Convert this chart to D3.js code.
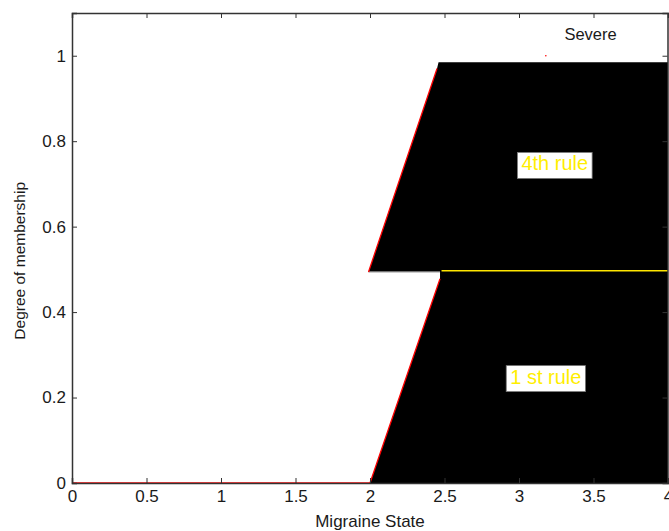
<!DOCTYPE html>
<html>
<head>
<meta charset="utf-8">
<script src="https://cdn.jsdelivr.net/npm/d3@7"></script>
<style>
  html, body { margin: 0; padding: 0; background: #fff; }
  svg { display: block; }
  text { font-family: "Liberation Sans", Arial, sans-serif; }
</style>
</head>
<body>
<svg id="chart" width="669" height="531"></svg>
<script>
// Membership data for the "Severe" output set
const xTicks = [0, 0.5, 1, 1.5, 2, 2.5, 3, 3.5, 4];
const yTicks = [0, 0.2, 0.4, 0.6, 0.8, 1];
const baseline = [[0, 0], [2, 0]];
const firstRuleArea = [[2, 0], [2.47, 0.478], [2.47, 0.494], [4, 0.494], [4, 0]];
const fourthRuleArea = [[1.99, 0.494], [2.45, 0.97], [2.46, 0.985], [4, 0.985], [4, 0.494]];
const firstRuleEdge = [[2, 0], [2.47, 0.478]];
const fourthRuleEdge = [[1.99, 0.494], [2.45, 0.97]];
const cutLine = [[1.99, 0.494], [2.47, 0.494]];
const yellowCut = [[2.48, 0.497], [4, 0.497]];
const ruleLabels = [
  { text: "4th rule", x: 3.24, y: 0.748 },
  { text: "1 st rule", x: 3.18, y: 0.249 }
];
const legendLabel = { text: "Severe", x: 3.48, y: 1.05 };
const strayPoint = [3.18, 1.0];

const svg = d3.select("#chart");
const margin = { left: 72, right: 1, top: 13, bottom: 48 };
const W = 669, H = 531;

const x = d3.scaleLinear().domain([0, 4]).range([margin.left, W - margin.right]);
const y = d3.scaleLinear().domain([0, 1.1]).range([H - margin.bottom, margin.top]);

const line = d3.line().x(d => x(d[0])).y(d => y(d[1]));

// Filled rule regions
svg.append("path").attr("d", line(firstRuleArea) + "Z").attr("fill", "#000");
svg.append("path").attr("d", line(fourthRuleArea) + "Z").attr("fill", "#000");

// Cut lines and edges
svg.append("path").attr("d", line(cutLine)).attr("stroke", "#9a9a9a").attr("stroke-width", 1.2).attr("fill", "none");
svg.append("path").attr("d", line(yellowCut)).attr("stroke", "#ffe600").attr("stroke-width", 1.5).attr("fill", "none");
[baseline, firstRuleEdge, fourthRuleEdge].forEach(seg => {
  svg.append("path").attr("d", line(seg)).attr("stroke", "#ff0000").attr("stroke-width", 1.3).attr("fill", "none");
});
svg.append("circle").attr("cx", x(strayPoint[0])).attr("cy", y(strayPoint[1])).attr("r", 0.8).attr("fill", "#ff0000");

// Axes box with inward ticks
const axisColor = "#333";
const gx = svg.append("g").attr("transform", `translate(0,${y(0)})`)
  .call(d3.axisBottom(x).tickValues(xTicks).tickSize(-5).tickPadding(7).tickFormat(d3.format("")));
const gxTop = svg.append("g").attr("transform", `translate(0,${y(1.1)})`)
  .call(d3.axisTop(x).tickValues(xTicks).tickSize(-5).tickFormat(""));
const gy = svg.append("g").attr("transform", `translate(${x(0)},0)`)
  .call(d3.axisLeft(y).tickValues(yTicks).tickSize(-5).tickPadding(6).tickFormat(d3.format("")));
const gyRight = svg.append("g").attr("transform", `translate(${x(4) - 0.5},0)`)
  .call(d3.axisRight(y).tickValues(yTicks).tickSize(-5).tickFormat(""));
[gx, gxTop, gy, gyRight].forEach(g => {
  g.select(".domain").attr("stroke", axisColor).attr("stroke-width", 1.5);
  g.selectAll(".tick line").attr("stroke", axisColor);
  g.selectAll(".tick text").attr("fill", "#1a1a1a").attr("font-size", 17)
    .attr("font-family", "'Liberation Sans', Arial, sans-serif");
});
gx.selectAll(".tick text").attr("dy", "0.71em");

// Rule labels
ruleLabels.forEach(r => {
  const g = svg.append("g");
  const t = g.append("text")
    .attr("x", x(r.x)).attr("y", y(r.y))
    .attr("text-anchor", "middle").attr("dominant-baseline", "central")
    .attr("font-family", "Lato, 'Open Sans', sans-serif")
    .attr("font-size", 20).attr("fill", "#ffee00")
    .text(r.text);
  const b = t.node().getBBox();
  g.insert("rect", "text")
    .attr("x", b.x - 4).attr("y", b.y)
    .attr("width", b.width + 8).attr("height", b.height + 4)
    .attr("fill", "#fff").attr("stroke", "#777").attr("stroke-width", 0.8);
});

// Legend text
svg.append("text").attr("x", x(legendLabel.x)).attr("y", y(legendLabel.y))
  .attr("text-anchor", "middle").attr("dominant-baseline", "central")
  .attr("font-size", 16.5).attr("fill", "#1a1a1a").text(legendLabel.text);

// Axis titles
svg.append("text").attr("x", x(2)).attr("y", 527)
  .attr("text-anchor", "middle").attr("font-size", 17).attr("fill", "#1a1a1a")
  .text("Migraine State");
svg.append("text")
  .attr("transform", `translate(25,${y(0.52)}) rotate(-90)`)
  .attr("text-anchor", "middle").attr("font-size", 15.5).attr("fill", "#1a1a1a")
  .text("Degree of membership");
</script>
</body>
</html>
